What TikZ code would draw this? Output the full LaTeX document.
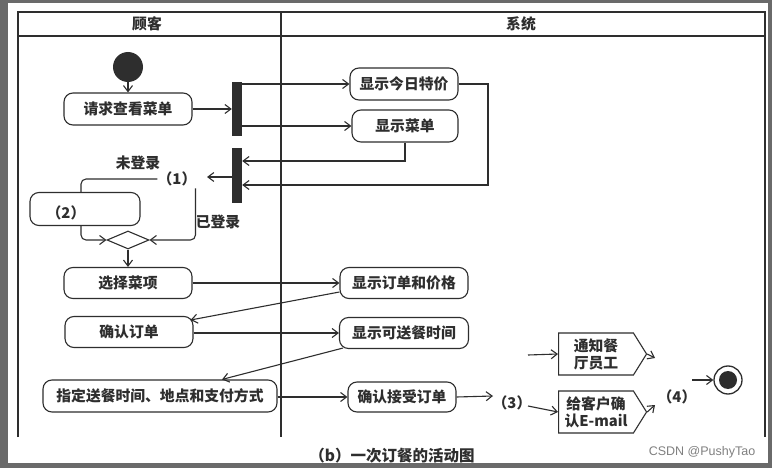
\documentclass[tikz,border=0pt]{standalone}
\usepackage{fontspec}
\newfontfamily\cjk{Noto Sans CJK SC}
\setsansfont{Liberation Sans}
\usetikzlibrary{arrows.meta,shapes.geometric,shapes.symbols}
\definecolor{ink}{HTML}{2E2E2E}
\definecolor{rim}{HTML}{6A6A6A}
\begin{document}
\begin{tikzpicture}[x=1pt,y=-1pt,
  lane/.style={draw=ink, line width=1.3pt},
  line/.style={draw=ink, line width=1.1pt},
  arr/.style={line, -{Straight Barb[length=6pt,width=9pt,line width=1.1pt]}},
  txt/.style={font=\cjk\bfseries\fontsize{14.8}{17}\selectfont, text=ink, inner sep=0pt},
  act/.style={txt, draw=ink, line width=1.1pt, rounded corners=9pt},
  bar/.style={fill=ink, draw=none, minimum width=10pt, inner sep=0pt},
  sig/.style={txt, draw=ink, line width=1.1pt, shape=signal, signal to=east,
    signal pointer angle=116, align=center, minimum height=42pt, minimum width=88pt}
]
\useasboundingbox (0,0) rectangle (772,468);
\fill[rim] (0,0) rectangle (772,468);
\fill[white] (8,3) rectangle (768,463);

% swimlanes
\draw[lane] (18,437) -- (18,12) -- (765,12) -- (765,437);
\draw[lane] (18,36) -- (765,36);
\draw[lane] (281,12) -- (281,437);
\node[txt] (h1) at (147,24) {顾客};
\node[txt] (h2) at (521,24) {系统};

% nodes
\node[circle, fill=ink, minimum size=30pt, inner sep=0pt] (init) at (128,67) {};
\node[act, minimum width=128pt, minimum height=32pt] (req) at (128,109) {请求查看菜单};
\node[bar, minimum height=54pt] (bar1) at (237,109) {};
\node[act, minimum width=108pt, minimum height=32pt] (t1) at (404,84) {显示今日特价};
\node[act, minimum width=106pt, minimum height=32pt] (t2) at (405,126) {显示菜单};
\node[bar, minimum height=55pt] (bar2) at (237,176) {};
\coordinate (c1) at (207,177);
\coordinate (r1) at (488,185);
\node[txt] (lbl1) at (177,179) {（1）};
\node[txt] (wl) at (138,163) {未登录};
\node[act, minimum width=110pt, minimum height=33pt] (box2) at (85,209) {};
\node[txt] (l2) at (66,213) {（2）};
\node[txt] (yl) at (218,222) {已登录};
\node[diamond, draw=ink, line width=1.1pt, minimum width=42pt, minimum height=18pt, inner sep=0pt] (dia) at (128,240) {};
\node[act, minimum width=128pt, minimum height=31pt] (sel) at (128,283) {选择菜项};
\node[act, minimum width=128pt, minimum height=31pt] (conf) at (129,332) {确认订单};
\node[act, minimum width=234pt, minimum height=32pt] (spec) at (160,396) {指定送餐时间、地点和支付方式};
\node[act, minimum width=128pt, minimum height=31pt] (ord) at (404,283) {显示订单和价格};
\node[act, minimum width=129pt, minimum height=31pt] (avail) at (404,333) {显示可送餐时间};
\node[act, minimum width=108pt, minimum height=30pt] (acc) at (402,397) {确认接受订单};
\coordinate (c3) at (493,396);
\node[txt] (l3) at (512,403) {（3）};
\coordinate (c3a) at (528,406);
\coordinate (c2) at (528,355);
\node[sig] (n1) at (596,354) {通知餐\\厅员工};
\node[sig] (n2) at (596,412) {给客户确\\认E-mail};
\coordinate (e1) at (655,358);
\coordinate (e2) at (655,405);
\node[txt] (l4) at (677,397) {（4）};
\coordinate (c4) at (692,380);
\node[circle, draw=ink, line width=1.3pt, minimum size=28pt, inner sep=0pt] (fin) at (728,380) {};
\fill[ink] (fin.center) circle (9);

% connectors
\draw[arr] (init) -- (req);
\draw[arr] (req) -- (bar1);
\draw[arr] (bar1.east |- t1.west) -- (t1.west);
\draw[arr] (bar1.east |- t2.west) -- (t2.west);
\draw[arr] (t1.east) -| (r1) -- ([yshift=-9pt]bar2.east);
\draw[arr] (t2.south) |- ([yshift=15pt]bar2.east);
\draw[arr] (bar2.west |- c1) -- (c1);
\draw[line, rounded corners=5pt] (lbl1.west) -| ([xshift=-4pt]box2.north);
\draw[arr, rounded corners=5pt] ([xshift=-4pt]box2.south) |- (dia.west);
\draw[arr, rounded corners=5pt] ([xshift=-1pt,yshift=-2pt]lbl1.south east) |- (dia.east);
\draw[arr] (dia) -- (sel);
\draw[arr] (sel) -- (ord);
\draw[arr] ([yshift=-9pt]ord.west) -- ([xshift=-3pt,yshift=12pt]conf.east);
\draw[arr] (conf.east |- avail.west) -- (avail.west);
\draw[arr] ([xshift=4pt,yshift=1pt]avail.south west) -- ([xshift=62pt]spec.north);
\draw[arr] (spec.east |- acc.west) -- (acc.west);
\draw[arr] (acc.east) -- (c3);
\draw[arr] (c3a) -- (n2.west);
\draw[arr] (c2) -- (n1.west);
\draw[arr] (n1.east) -- (e1);
\draw[arr] (n2.east) -- (e2);
\draw[arr] (c4) -- (fin.west);

% caption and watermark
\node[txt, font=\cjk\bfseries\fontsize{15.5}{17}\selectfont] (cap) at (392,456) {（b）一次订餐的活动图};
\node[font=\sffamily\fontsize{12.5}{14}\selectfont, text=black!50, inner sep=0pt] (wm) at (702,452) {CSDN @PushyTao};
\end{tikzpicture}
\end{document}
